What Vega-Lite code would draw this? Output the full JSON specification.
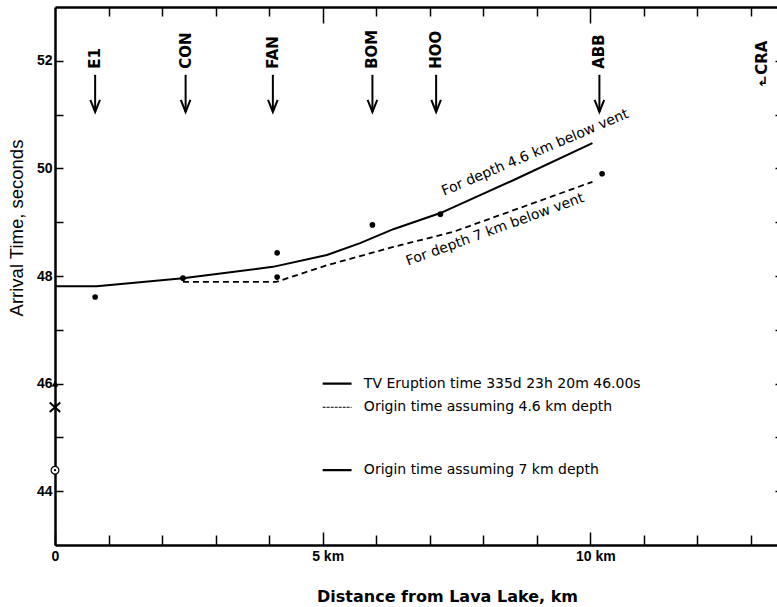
{
  "$schema": "https://vega.github.io/schema/vega-lite/v6.json",
  "width": 728,
  "height": 538,
  "autosize": "none",
  "padding": {"left": 55, "top": 7, "right": 0, "bottom": 62},
  "background": "white",
  "config": {"view": {"stroke": null}, "axis": {"grid": false, "labelFontSize": 14, "labelFont": "Liberation Sans", "labelFontWeight": "bold", "labelColor": "black"}},
  "datasets": {
    "depth46": [
      {"dist": 0, "t": 47.81}, {"dist": 0.78, "t": 47.81}, {"dist": 2.39, "t": 47.96},
      {"dist": 4.07, "t": 48.17}, {"dist": 5.08, "t": 48.39}, {"dist": 5.7, "t": 48.61},
      {"dist": 6.32, "t": 48.87}, {"dist": 7.2, "t": 49.17}, {"dist": 8.56, "t": 49.78},
      {"dist": 10.04, "t": 50.47}
    ],
    "depth7": [
      {"dist": 2.39, "t": 47.89}, {"dist": 4.13, "t": 47.89}, {"dist": 5.08, "t": 48.2},
      {"dist": 6.32, "t": 48.54}, {"dist": 7.44, "t": 48.82}, {"dist": 10.04, "t": 49.75}
    ],
    "observed": [
      {"station": "E1", "dist": 0.75, "t": 47.61},
      {"station": "CON", "dist": 2.39, "t": 47.96},
      {"station": "FAN", "dist": 4.15, "t": 48.43},
      {"station": "FAN", "dist": 4.15, "t": 47.98},
      {"station": "BOM", "dist": 5.93, "t": 48.95},
      {"station": "HOO", "dist": 7.2, "t": 49.15},
      {"station": "ABB", "dist": 10.22, "t": 49.9}
    ],
    "stations": [
      {"station": "E1", "dist": 0.75}, {"station": "CON", "dist": 2.44},
      {"station": "FAN", "dist": 4.07}, {"station": "BOM", "dist": 5.93},
      {"station": "HOO", "dist": 7.12}, {"station": "ABB", "dist": 10.17},
      {"station": "CRA", "dist": 13.2}
    ],
    "origins": [
      {"label": "TV Eruption time 335d 23h 20m 46.00s", "t": 46.0},
      {"label": "Origin time assuming 4.6 km depth", "t": 45.56},
      {"label": "Origin time assuming 7 km depth", "t": 44.39}
    ],
    "curveLabels": [
      {"label": "For depth 4.6 km below vent", "depth": 4.6},
      {"label": "For depth 7 km below vent", "depth": 7}
    ]
  },
  "layer": [
    {
      "data": {"name": "depth46"},
      "mark": {"type": "line", "color": "black", "strokeWidth": 2},
      "encoding": {
        "x": {
          "field": "dist", "type": "quantitative",
          "scale": {"domain": [0, 13.6], "nice": false, "zero": false},
          "axis": {
            "orient": "bottom",
            "values": [0, 1, 2, 3, 4, 5, 6, 7, 8, 9, 10, 11, 12, 13],
            "labelExpr": "datum.value == 0 ? '0' : (datum.value % 5 == 0 ? datum.value + ' km' : '')",
            "tickSize": {"condition": {"test": "datum.value % 5 == 0", "value": -13}, "value": -10},
            "labelPadding": 17,
            "labelOffset": {"condition": {"test": "datum.value == 0", "value": 0}, "value": 5},
            "tickColor": "black", "tickWidth": 1.5,
            "domainColor": "black", "domainWidth": 2.5,
            "labelFont": "Liberation Sans", "labelFontSize": 14, "labelFontWeight": "bold", "labelColor": "black",
            "labelFlush": false, "labelOverlap": false,
            "title": "Distance from Lava Lake, km",
            "titleFont": "DejaVu Sans", "titleFontWeight": "bold", "titleFontSize": 16,
            "titleColor": "black",
            "titleX": 392, "titleY": 51, "titleBaseline": "middle", "titleAlign": "center"
          }
        },
        "y": {
          "field": "t", "type": "quantitative",
          "scale": {"domain": [43, 53], "nice": false, "zero": false},
          "axis": {
            "orient": "left",
            "values": [44, 45, 46, 47, 48, 49, 50, 51, 52],
            "labelExpr": "datum.value % 2 == 0 ? datum.value : ''",
            "tickSize": -8, "labelPadding": 11,
            "tickColor": "black", "tickWidth": 1.5,
            "domainColor": "black", "domainWidth": 2.5,
            "labelFont": "Liberation Sans", "labelFontSize": 14, "labelFontWeight": "bold", "labelColor": "black",
            "labelFlush": false, "labelOverlap": false,
            "title": "Arrival Time, seconds",
            "titleFont": "Liberation Sans", "titleFontWeight": "normal", "titleFontSize": 18.5,
            "titleColor": "black",
            "titleX": -39, "titleY": 220.5, "titleBaseline": "middle", "titleAlign": "center",
            "titleAngle": 270
          }
        }
      }
    },
    {
      "data": {"name": "depth7"},
      "mark": {"type": "line", "color": "black", "strokeWidth": 1.8, "strokeDash": [6, 4]},
      "encoding": {
        "x": {
          "field": "dist", "type": "quantitative",
          "axis": {
            "orient": "top",
            "values": [1, 2, 3, 4, 5, 6, 7, 8, 9, 10, 11, 12, 13],
            "labels": false,
            "tickSize": {"condition": {"test": "datum.value % 5 == 0", "value": -16}, "value": -9},
            "tickColor": "black", "tickWidth": 1.5,
            "domainColor": "black", "domainWidth": 2.5,
            "title": null
          }
        },
        "y": {
          "field": "t", "type": "quantitative",
          "axis": {
            "orient": "right",
            "values": [44, 45, 46, 47, 48, 49, 50, 51, 52],
            "labels": false,
            "tickSize": -8,
            "tickColor": "black", "tickWidth": 1.5,
            "domainColor": "black", "domainWidth": 2.5,
            "title": null
          }
        }
      }
    },
    {
      "data": {"name": "observed"},
      "mark": {"type": "point", "filled": true, "color": "black", "size": 32, "opacity": 1},
      "encoding": {
        "x": {"field": "dist", "type": "quantitative", "axis": null},
        "y": {"field": "t", "type": "quantitative", "axis": null}
      }
    },
    {
      "data": {"name": "stations"},
      "transform": [{"filter": "datum.station != 'CRA'"}],
      "mark": {"type": "rule", "color": "black", "strokeWidth": 2},
      "encoding": {
        "x": {"field": "dist", "type": "quantitative", "axis": null},
        "y": {"datum": 51.74, "axis": null},
        "y2": {"datum": 51.05}
      }
    },
    {
      "data": {"name": "stations"},
      "transform": [{"filter": "datum.station != 'CRA'"}],
      "mark": {"type": "point", "shape": "M-0.8,-1L0,1L0.8,-1", "filled": false, "stroke": "black", "strokeWidth": 2, "size": 144, "opacity": 1},
      "encoding": {
        "x": {"field": "dist", "type": "quantitative", "axis": null},
        "y": {"datum": 51.16, "axis": null}
      }
    },
    {
      "data": {"name": "stations"},
      "transform": [{"filter": "datum.station != 'CRA'"}],
      "mark": {"type": "text", "angle": 270, "align": "left", "baseline": "middle", "font": "DejaVu Sans", "fontWeight": "bold", "fontSize": 15, "color": "black"},
      "encoding": {
        "x": {"field": "dist", "type": "quantitative", "axis": null},
        "y": {"datum": 51.85, "axis": null},
        "text": {"field": "station"}
      }
    },
    {
      "data": {"name": "stations"},
      "transform": [{"filter": "datum.station == 'CRA'"}],
      "mark": {"type": "text", "angle": 270, "align": "left", "baseline": "middle", "font": "DejaVu Sans", "fontWeight": "bold", "fontSize": 15, "color": "black"},
      "encoding": {
        "x": {"field": "dist", "type": "quantitative", "axis": null},
        "y": {"datum": 51.74, "axis": null},
        "text": {"field": "station"}
      }
    },
    {
      "data": {"name": "stations"},
      "transform": [{"filter": "datum.station == 'CRA'"}],
      "mark": {"type": "text", "text": "↲", "align": "center", "baseline": "middle", "font": "DejaVu Sans", "fontWeight": "bold", "fontSize": 13, "color": "black", "dx": 1},
      "encoding": {
        "x": {"field": "dist", "type": "quantitative", "axis": null},
        "y": {"datum": 51.6, "axis": null}
      }
    },
    {
      "data": {"name": "origins"},
      "transform": [{"filter": "indexof(datum.label, 'TV') == 0"}],
      "mark": {"type": "point", "shape": "triangle-up", "filled": true, "color": "black", "size": 45, "opacity": 1},
      "encoding": {
        "x": {"datum": 0, "axis": null},
        "y": {"field": "t", "type": "quantitative", "axis": null}
      }
    },
    {
      "data": {"name": "origins"},
      "transform": [{"filter": "indexof(datum.label, '4.6') >= 0"}],
      "mark": {"type": "point", "shape": "M-1,-0.9L1,0.9M1,-0.9L-1,0.9", "filled": false, "stroke": "black", "strokeWidth": 2, "size": 110, "opacity": 1},
      "encoding": {
        "x": {"datum": 0, "axis": null},
        "y": {"field": "t", "type": "quantitative", "axis": null}
      }
    },
    {
      "data": {"name": "origins"},
      "transform": [{"filter": "indexof(datum.label, '7 km') >= 0"}],
      "mark": {"type": "point", "shape": "circle", "filled": false, "stroke": "black", "fill": "white", "strokeWidth": 1.2, "size": 60, "opacity": 1},
      "encoding": {
        "x": {"datum": 0, "axis": null},
        "y": {"field": "t", "type": "quantitative", "axis": null}
      }
    },
    {
      "data": {"name": "origins"},
      "transform": [{"filter": "indexof(datum.label, '7 km') >= 0"}],
      "mark": {"type": "point", "shape": "circle", "filled": true, "color": "black", "size": 5, "opacity": 1},
      "encoding": {
        "x": {"datum": 0, "axis": null},
        "y": {"field": "t", "type": "quantitative", "axis": null}
      }
    },
    {
      "data": {"name": "origins"},
      "mark": {"type": "rule", "color": "black"},
      "encoding": {
        "x": {"datum": 5.0, "axis": null},
        "x2": {"datum": 5.54},
        "y": {"field": "t", "type": "quantitative", "axis": null},
        "strokeWidth": {"condition": {"test": "indexof(datum.label, '4.6') >= 0", "value": 1}, "value": 2.2},
        "strokeDash": {"condition": {"test": "indexof(datum.label, '4.6') >= 0", "value": [3, 1]}, "value": [1, 0]}
      }
    },
    {
      "data": {"name": "origins"},
      "mark": {"type": "text", "align": "left", "baseline": "middle", "font": "DejaVu Sans", "fontSize": 14, "color": "black"},
      "encoding": {
        "x": {"datum": 5.77, "axis": null},
        "y": {"field": "t", "type": "quantitative", "axis": null},
        "text": {"field": "label"}
      }
    },
    {
      "data": {"name": "curveLabels"},
      "transform": [{"filter": "datum.depth == 4.6"}],
      "mark": {"type": "text", "angle": 337, "align": "center", "baseline": "middle", "font": "DejaVu Sans", "fontSize": 14, "color": "black"},
      "encoding": {
        "x": {"datum": 8.97, "axis": null},
        "y": {"datum": 50.29, "axis": null},
        "text": {"field": "label"}
      }
    },
    {
      "data": {"name": "curveLabels"},
      "transform": [{"filter": "datum.depth == 7"}],
      "mark": {"type": "text", "angle": 340, "align": "center", "baseline": "middle", "font": "DejaVu Sans", "fontSize": 14, "color": "black"},
      "encoding": {
        "x": {"datum": 8.22, "axis": null},
        "y": {"datum": 48.86, "axis": null},
        "text": {"field": "label"}
      }
    }
  ],
  "resolve": {"axis": {"x": "independent", "y": "independent"}}
}
